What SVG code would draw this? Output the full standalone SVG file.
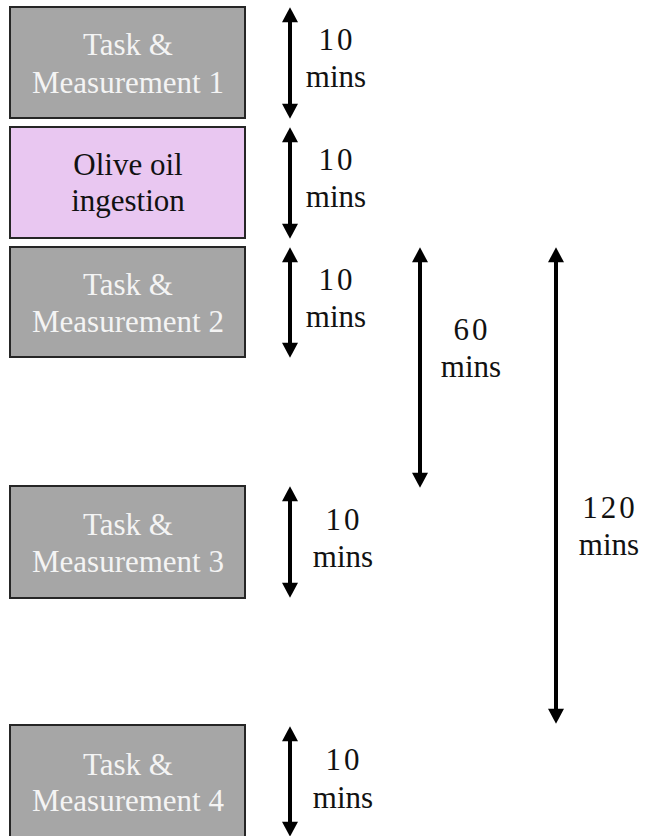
<svg xmlns="http://www.w3.org/2000/svg" width="646" height="836" viewBox="0 0 646 836">
<style>
.box{stroke:#262626;stroke-width:2}
.gray{fill:#a6a6a6}
.pink{fill:#e9c7f1}
.t{font-family:"Liberation Serif","DejaVu Serif",serif;font-size:31px;text-anchor:middle}
.w{fill:#f4f4f4}
.k{fill:#111}
.num{letter-spacing:3px}
.arr{stroke:#000;stroke-width:4;fill:none;marker-start:url(#ah);marker-end:url(#ah)}
</style>
<defs>
<marker id="ah" markerUnits="userSpaceOnUse" markerWidth="16" markerHeight="16" viewBox="0 0 14 15" refX="4" refY="7.5" orient="auto-start-reverse">
<path d="M0,0 L14,7.5 L0,15 z" fill="#000"/>
</marker>
</defs>
<rect width="646" height="836" fill="#fff"/>
<g id="node1">
<rect class="box gray" x="10" y="7" width="235" height="111"/>
<text class="t w" x="128" y="55">Task &amp;</text>
<text class="t w" x="128" y="93">Measurement 1</text>
</g>
<g id="node2">
<rect class="box pink" x="10" y="127" width="235" height="111"/>
<text class="t k" x="128" y="175">Olive oil</text>
<text class="t k" x="128" y="211">ingestion</text>
</g>
<g id="node3">
<rect class="box gray" x="10" y="247" width="235" height="110"/>
<text class="t w" x="128" y="295">Task &amp;</text>
<text class="t w" x="128" y="332">Measurement 2</text>
</g>
<g id="node4">
<rect class="box gray" x="10" y="486" width="235" height="112"/>
<text class="t w" x="128" y="535">Task &amp;</text>
<text class="t w" x="128" y="572">Measurement 3</text>
</g>
<g id="node5">
<rect class="box gray" x="10" y="725" width="235" height="120"/>
<text class="t w" x="128" y="775">Task &amp;</text>
<text class="t w" x="128" y="811">Measurement 4</text>
</g>
<g id="connectors">
<line class="arr" x1="290" y1="18" x2="290" y2="108"/>
<line class="arr" x1="290" y1="138" x2="290" y2="228"/>
<line class="arr" x1="290" y1="258" x2="290" y2="347"/>
<line class="arr" x1="420" y1="258" x2="420" y2="477"/>
<line class="arr" x1="556" y1="258" x2="556" y2="713"/>
<line class="arr" x1="290" y1="497" x2="290" y2="587"/>
<line class="arr" x1="290" y1="737" x2="290" y2="826"/>
</g>
<g id="labels">
<text class="t k num" x="337" y="50">10</text>
<text class="t k" x="336" y="87">mins</text>
<text class="t k num" x="337" y="170">10</text>
<text class="t k" x="336" y="207">mins</text>
<text class="t k num" x="337" y="290">10</text>
<text class="t k" x="336" y="327">mins</text>
<text class="t k num" x="472" y="340">60</text>
<text class="t k" x="471" y="377">mins</text>
<text class="t k num" x="610" y="518">120</text>
<text class="t k" x="609" y="555">mins</text>
<text class="t k num" x="344" y="530">10</text>
<text class="t k" x="343" y="567">mins</text>
<text class="t k num" x="344" y="770">10</text>
<text class="t k" x="343" y="808">mins</text>
</g>
</svg>
